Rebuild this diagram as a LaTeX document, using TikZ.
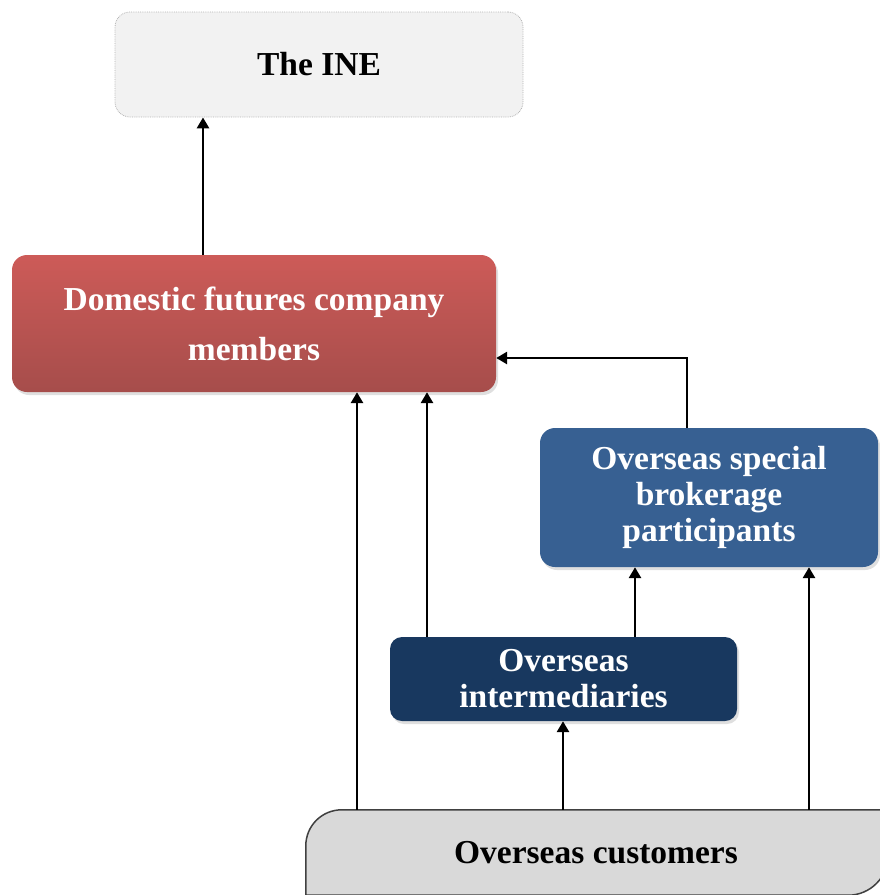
\documentclass[tikz,border=0pt]{standalone}
\usepackage{fontspec}
\setmainfont{Liberation Serif}
\usetikzlibrary{arrows.meta,shadows,calc}
\definecolor{redtop}{HTML}{CD5B58}
\definecolor{redbot}{HTML}{A64D4B}
\definecolor{bluebox}{HTML}{376092}
\definecolor{navybox}{HTML}{18385F}
\definecolor{inefill}{HTML}{F2F2F2}
\definecolor{custfill}{HTML}{D9D9D9}
\tikzset{
  boxbase/.style={rounded corners=15pt, inner sep=0pt, align=center, font=\bfseries\fontsize{33.5}{36}\selectfont},
  shad/.style={drop shadow={opacity=0.25, shadow xshift=2pt, shadow yshift=-3pt}},
  arr/.style={line width=2.8pt, -{Triangle[width=12pt,length=11pt]}},
  custline/.style={fill=custfill, draw=black!75, line width=1.5pt},
}
\begin{document}
\begin{tikzpicture}[x=1pt,y=-1pt]
\useasboundingbox (0,0) rectangle (879,895);
% boxes
\node[boxbase, fill=inefill, draw=gray!60, densely dotted, line width=0.8pt,
      minimum width=408pt, minimum height=105pt] (ine) at (319,64.5) {The INE};
\node[boxbase, shad, top color=redtop, bottom color=redbot, draw=none, text=white,
      font=\bfseries\fontsize{33.5}{50}\selectfont,
      minimum width=484pt, minimum height=137pt] (dom) at (254,323.5) {Domestic futures company\\members};
\node[boxbase, shad, fill=bluebox, text=white,
      minimum width=338pt, minimum height=139pt] (osbp) at (709,497.5) {Overseas special\\brokerage\\participants};
\node[boxbase, shad, fill=navybox, text=white, rounded corners=12pt,
      minimum width=347pt, minimum height=84pt] (inter) at (563.5,679) {Overseas\\intermediaries};
% customers: round diagonal corner rectangle
\node[inner sep=0pt, minimum width=582pt, minimum height=85pt] (cust) at (597,852.5) {};
\path[custline]
  (cust.south west) -- ($(cust.north west)+(0,36)$)
  .. controls ($(cust.north west)+(0,16)$) and ($(cust.north west)+(16,0)$) .. ($(cust.north west)+(36,0)$)
  -- (cust.north east) -- ($(cust.south east)+(0,-40)$)
  .. controls ($(cust.south east)+(0,-18)$) and ($(cust.south east)+(-18,0)$) .. ($(cust.south east)+(-40,0)$)
  -- cycle;
\node[font=\bfseries\fontsize{33.5}{36}\selectfont] (custtext) at (596,853) {Overseas customers};
% connector x positions
\coordinate (xa) at (203,0);
\coordinate (xb) at (357,0);
\coordinate (xc) at (427,0);
\coordinate (xd) at (563,0);
\coordinate (xe) at (635,0);
\coordinate (xf) at (809,0);
\coordinate (xg) at (687,0);
\coordinate (yh) at (0,358);
% connectors
\draw[arr] (dom.north -| xa) -- (ine.south -| xa);
\draw[arr] (cust.north -| xb) -- (dom.south -| xb);
\draw[arr] (inter.north -| xc) -- (dom.south -| xc);
\draw[arr] (cust.north -| xd) -- (inter.south -| xd);
\draw[arr] (inter.north -| xe) -- (osbp.south -| xe);
\draw[arr] (cust.north -| xf) -- (osbp.south -| xf);
\draw[arr] (osbp.north -| xg) |- (dom.east |- yh);
\end{tikzpicture}
\end{document}
